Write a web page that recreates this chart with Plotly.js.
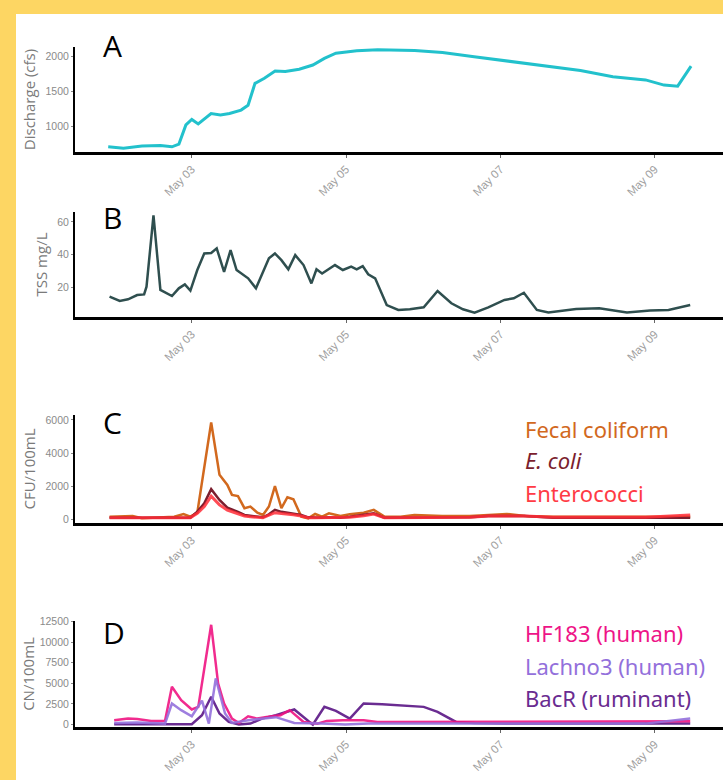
<!DOCTYPE html>
<html>
<head>
<meta charset="utf-8">
<script src="https://cdn.plot.ly/plotly-3.0.1.min.js"></script>
<style>html,body{margin:0;padding:0;background:#fff;}#chart{width:723px;height:780px;}</style>
</head>
<body>
<div id="chart"></div>
<script>
// ---------- DATA ----------
const YEAR = "2021-";
// Panel A: Discharge (cfs)
const dischargeTime = ["05-01 22:00","05-02 02:45","05-02 08:30","05-02 14:15","05-02 17:50","05-02 20:00","05-02 22:10","05-03 00:00","05-03 02:00","05-03 06:00","05-03 08:55","05-03 11:45","05-03 15:20","05-03 17:30","05-03 19:40","05-03 22:35","05-04 01:55","05-04 05:05","05-04 09:25","05-04 13:40","05-04 17:15","05-04 20:50","05-05 03:20","05-05 09:50","05-05 21:20","05-06 06:00","05-06 15:50","05-07 02:00","05-07 13:25","05-08 00:55","05-08 11:00","05-08 21:10","05-09 02:55","05-09 07:10","05-09 11:20"];
const dischargeCfs = [700,680,710,720,700,740,1015,1095,1030,1180,1160,1180,1230,1300,1615,1690,1795,1785,1820,1880,1975,2050,2085,2100,2090,2060,2000,1940,1875,1800,1710,1665,1590,1575,1865];

// Panel B: TSS mg/L
const tssTime = ["05-01 22:25","05-02 01:35","05-02 04:10","05-02 07:00","05-02 09:10","05-02 09:55","05-02 12:05","05-02 14:14","05-02 17:50","05-02 19:58","05-02 21:50","05-02 23:34","05-03 01:43","05-03 03:53","05-03 06:02","05-03 07:45","05-03 10:03","05-03 12:04","05-03 13:56","05-03 17:32","05-03 19:58","05-04 00:00","05-04 01:52","05-04 03:53","05-04 06:02","05-04 08:11","05-04 10:46","05-04 13:13","05-04 14:48","05-04 16:32","05-04 20:33","05-04 23:00","05-05 01:35","05-05 03:18","05-05 05:11","05-05 06:53","05-05 09:03","05-05 12:39","05-05 16:15","05-05 19:50","05-06 00:09","05-06 04:28","05-06 08:46","05-06 12:22","05-06 15:58","05-06 20:15","05-07 01:17","05-07 04:10","05-07 07:19","05-07 11:21","05-07 14:57","05-07 23:34","05-08 06:45","05-08 15:23","05-08 22:34","05-09 04:19","05-09 11:04"];
const tssMgL = [14.3,11.7,12.7,15.3,15.7,20.4,64,18.4,14.7,19.4,21.8,18,30.6,40.7,41,43.8,29.5,42.7,30.6,25.5,19.4,37.7,40.7,36.6,31,39.7,33.6,22.4,31,28.5,33.6,30.6,32.6,31,33,28,25.5,9.2,6.2,6.6,7.8,17.8,10.3,6.6,4.6,7.8,12.3,13.3,16.7,6.2,4.6,6.8,7.2,4.6,5.8,6.2,9.2];

// Panel C: CFU/100mL
const fibTime = ["05-01 22:25","05-02 05:37","05-02 08:28","05-02 18:32","05-02 21:25","05-02 23:34","05-03 01:43","05-03 03:53","05-03 06:02","05-03 08:37","05-03 11:04","05-03 12:30","05-03 14:22","05-03 16:23","05-03 18:14","05-03 20:24","05-03 22:08","05-04 00:00","05-04 01:52","05-04 03:53","05-04 05:45","05-04 07:37","05-04 10:04","05-04 12:13","05-04 14:22","05-04 16:32","05-04 18:40","05-04 22:16","05-05 01:09","05-05 05:28","05-05 08:37","05-05 11:56","05-05 16:58","05-05 21:16","05-06 05:54","05-06 14:31","05-06 20:15","05-07 02:01","05-07 07:45","05-07 16:23","05-08 06:45","05-08 21:07","05-09 11:04"];
const fecalColiform = [160,200,60,160,320,160,400,3000,5850,2690,2080,1475,1400,670,770,400,260,770,2000,670,1330,1210,160,60,320,160,360,200,300,400,570,160,160,260,200,200,260,320,200,160,160,160,160];
const eColi = [100,100,100,100,120,100,460,970,1820,1170,700,600,450,260,200,150,120,300,570,450,400,350,260,120,100,100,120,100,150,250,360,100,100,100,100,120,200,220,200,100,100,100,100];
const enterococci = [100,100,100,100,120,100,360,770,1400,870,560,460,350,200,150,110,100,250,400,350,320,280,200,100,100,100,100,100,130,220,320,100,100,100,100,120,200,220,200,120,120,120,260];

// Panel D: CN/100mL
const hf183Time = ["05-01 23:51","05-02 04:10","05-02 07:02","05-02 11:21","05-02 15:40","05-02 17:49","05-02 20:42","05-03 00:00","05-03 02:01","05-03 06:02","05-03 08:11","05-03 10:03","05-03 12:30","05-03 14:40","05-03 17:32","05-03 20:24","05-03 23:17","05-04 03:36","05-04 06:27","05-04 10:46","05-04 15:05","05-04 17:58","05-04 23:00","05-05 05:28","05-05 09:46","05-05 21:16","05-06 11:38","05-09 11:04"];
const hf183 = [530,730,690,450,450,4590,2960,1830,2150,12100,5000,2560,730,200,1015,730,930,1140,1750,320,120,450,530,530,320,320,400,400];
const lachno3Time = ["05-01 23:51","05-02 07:02","05-02 15:40","05-02 17:49","05-02 20:42","05-03 00:00","05-03 03:10","05-03 05:19","05-03 07:28","05-03 10:21","05-03 12:30","05-03 17:32","05-04 02:09","05-04 07:53","05-04 16:32","05-04 23:43","05-05 06:53","05-06 11:38","05-08 21:07","05-09 11:04"];
const lachno3 = [200,250,120,2560,1750,1015,2900,120,5600,1340,200,530,900,200,120,0,120,120,120,730];
const bacRTime = ["05-01 23:51","05-03 00:00","05-03 03:10","05-03 06:02","05-03 08:37","05-03 11:30","05-03 14:40","05-03 18:14","05-03 21:50","05-04 02:09","05-04 07:53","05-04 10:46","05-04 13:39","05-04 17:15","05-04 20:50","05-05 01:09","05-05 05:28","05-05 11:13","05-05 16:58","05-06 00:09","05-06 04:28","05-06 10:12","05-06 15:58","05-07 02:01","05-09 11:04"];
const bacR = [40,40,1140,3370,1340,320,0,120,730,1140,1830,930,0,2150,1660,730,2560,2480,2350,2150,1540,320,200,120,120];

const xTickStart = "05-03";
const yTicksA = [1000,1500,2000];
const yTicksB = [20,40,60];
const yTicksC = [0,2000,4000,6000];
const yTicksD = [0,2500,5000,7500,10000,12500];

// ---------- LAYOUT HELPERS ----------
const W = 723, H = 780;
const d = s => YEAR + s;
const px = x => x / W;
const py = y => 1 - y / H;

const xRange = [d("05-01 11:40"), d("05-09 21:16")];

function xAxis(anchor) {
  return {
    anchor: anchor, type: "date", range: xRange, domain: [px(75), 1],
    tick0: d(xTickStart), dtick: 2 * 86400000, tickformat: "%b %d",
    tickangle: -45, tickfont: {family: "Liberation Sans, Arial, sans-serif", size: 11.5, color: "#a0a0a0"},
    ticks: "outside", ticklen: 3, tickcolor: "#666", tickwidth: 1,
    showline: true, linecolor: "#000", linewidth: 3,
    showgrid: false, zeroline: false, fixedrange: true
  };
}
function yAxis(anchor, top, bottom, range, tickvals, title, standoff) {
  return {
    anchor: anchor, domain: [py(bottom), py(top)], range: range,
    tickmode: "array", tickvals: tickvals, tickformat: "d",
    tickfont: {family: "Liberation Sans, Arial, sans-serif", size: 10.5, color: "#8a8a8a"},
    ticks: "outside", ticklen: 2, tickcolor: "#888", tickwidth: 1,
    showline: true, linecolor: "#000", linewidth: 2,
    showgrid: false, zeroline: false, fixedrange: true,
    title: {text: title, font: {family: "Open Sans, sans-serif", size: 15, color: "#7a7a7a"}, standoff: standoff}
  };
}

const traces = [
  {x: dischargeTime.map(d), y: dischargeCfs, xaxis: "x", yaxis: "y", mode: "lines", line: {color: "#22C1CC", width: 3}},
  {x: tssTime.map(d), y: tssMgL, xaxis: "x2", yaxis: "y2", mode: "lines", line: {color: "#2F4F4F", width: 2.5}},
  {x: fibTime.map(d), y: fecalColiform, xaxis: "x3", yaxis: "y3", mode: "lines", line: {color: "#D2691E", width: 2.5}},
  {x: fibTime.map(d), y: eColi, xaxis: "x3", yaxis: "y3", mode: "lines", line: {color: "#7B1E2E", width: 2.5}},
  {x: fibTime.map(d), y: enterococci, xaxis: "x3", yaxis: "y3", mode: "lines", line: {color: "rgba(255,45,55,0.85)", width: 3}},
  {x: bacRTime.map(d), y: bacR, xaxis: "x4", yaxis: "y4", mode: "lines", line: {color: "#6A2C91", width: 2.5}},
  {x: hf183Time.map(d), y: hf183, xaxis: "x4", yaxis: "y4", mode: "lines", line: {color: "rgba(240,20,130,0.9)", width: 2.5}},
  {x: lachno3Time.map(d), y: lachno3, xaxis: "x4", yaxis: "y4", mode: "lines", line: {color: "rgba(147,112,219,0.9)", width: 2.5}}
];

function letter(t, x, yc) {
  return {text: t, xref: "paper", yref: "paper", x: px(x), y: py(yc), xanchor: "left", yanchor: "middle",
    showarrow: false, font: {family: "Open Sans, sans-serif", size: 30, color: "#000"}};
}
function legendText(t, color, yc, italic) {
  return {text: t, xref: "paper", yref: "paper", x: px(523), y: py(yc), xanchor: "left", yanchor: "middle",
    showarrow: false, font: {family: "Noto Sans, sans-serif", size: 22, color: color, style: italic ? "italic" : "normal"}};
}

const layout = {
  width: W, height: H, margin: {l: 0, r: 0, t: 0, b: 0},
  paper_bgcolor: "#fff", plot_bgcolor: "rgba(0,0,0,0)", showlegend: false,
  xaxis: xAxis("y"), xaxis2: xAxis("y2"), xaxis3: xAxis("y3"), xaxis4: xAxis("y4"),
  yaxis: yAxis("x", 47, 152, [625, 2140], yTicksA, "Discharge (cfs)", 6),
  yaxis2: yAxis("x2", 212, 317, [1.9, 66], yTicksB, "TSS mg/L", 6),
  yaxis3: yAxis("x3", 415, 523, [-224, 6300], yTicksC, "CFU/100mL", 6),
  yaxis4: yAxis("x4", 621, 727, [-290, 12560], yTicksD, "CN/100mL", 1),
  shapes: [
    {type: "rect", xref: "paper", yref: "paper", x0: 0, x1: 1, y0: py(14), y1: 1, fillcolor: "#FDD663", line: {width: 0}, layer: "below"},
    {type: "rect", xref: "paper", yref: "paper", x0: 0, x1: px(16), y0: 0, y1: 1, fillcolor: "#FDD663", line: {width: 0}, layer: "below"}
  ],
  annotations: [
    letter("A", 101, 45), letter("B", 101, 217), letter("C", 101, 422), letter("D", 101, 632),
    legendText("Fecal coliform", "#D2691E", 429, false),
    legendText("E. coli", "#7B1E2E", 460, true),
    legendText("Enterococci", "#FF3B45", 493, false),
    legendText("HF183 (human)", "#EE1487", 633, false),
    legendText("Lachno3 (human)", "#9370DB", 666, false),
    legendText("BacR (ruminant)", "#6A2C91", 698, false)
  ]
};

Plotly.newPlot("chart", traces, layout, {displayModeBar: false, staticPlot: true});
</script>
</body>
</html>
